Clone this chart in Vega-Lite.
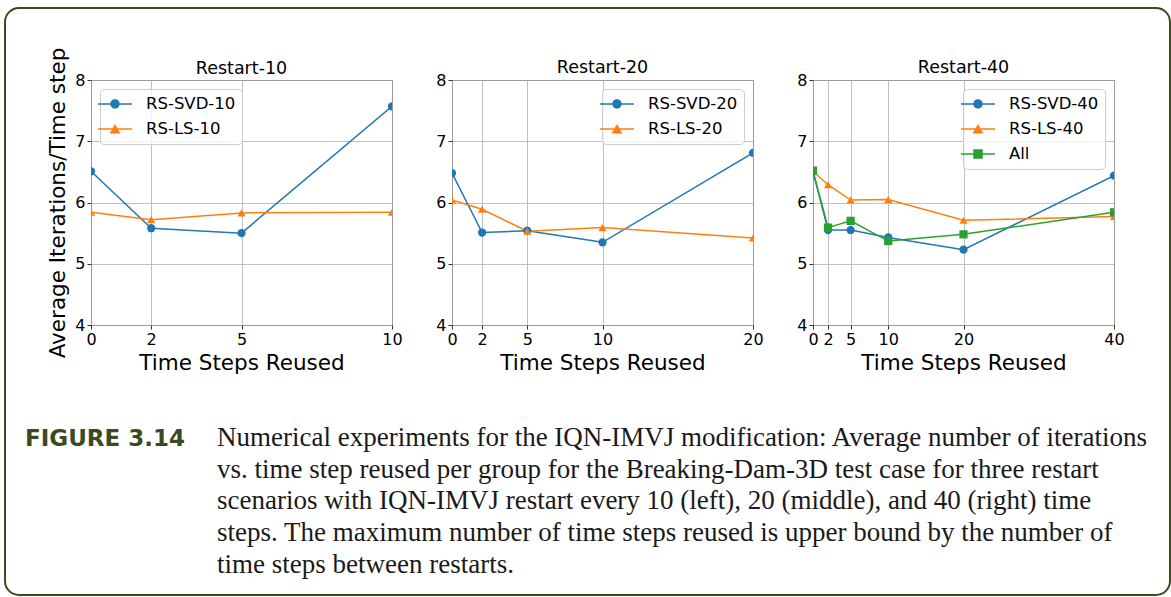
{
  "$schema": "https://vega.github.io/schema/vega-lite/v6.json",
  "background": "white",
  "padding": {"left": 4, "top": 6, "right": 0, "bottom": 0},
  "datasets": {
    "runs": [
      {"restart": 10, "series": "RS-SVD-10", "reused": 0, "iters": 6.51},
      {"restart": 10, "series": "RS-SVD-10", "reused": 2, "iters": 5.58},
      {"restart": 10, "series": "RS-SVD-10", "reused": 5, "iters": 5.50},
      {"restart": 10, "series": "RS-SVD-10", "reused": 10, "iters": 7.57},
      {"restart": 10, "series": "RS-LS-10", "reused": 0, "iters": 5.84},
      {"restart": 10, "series": "RS-LS-10", "reused": 2, "iters": 5.72},
      {"restart": 10, "series": "RS-LS-10", "reused": 5, "iters": 5.83},
      {"restart": 10, "series": "RS-LS-10", "reused": 10, "iters": 5.84},
      {"restart": 20, "series": "RS-SVD-20", "reused": 0, "iters": 6.48},
      {"restart": 20, "series": "RS-SVD-20", "reused": 2, "iters": 5.51},
      {"restart": 20, "series": "RS-SVD-20", "reused": 5, "iters": 5.54},
      {"restart": 20, "series": "RS-SVD-20", "reused": 10, "iters": 5.35},
      {"restart": 20, "series": "RS-SVD-20", "reused": 20, "iters": 6.81},
      {"restart": 20, "series": "RS-LS-20", "reused": 0, "iters": 6.04},
      {"restart": 20, "series": "RS-LS-20", "reused": 2, "iters": 5.89},
      {"restart": 20, "series": "RS-LS-20", "reused": 5, "iters": 5.53},
      {"restart": 20, "series": "RS-LS-20", "reused": 10, "iters": 5.59},
      {"restart": 20, "series": "RS-LS-20", "reused": 20, "iters": 5.42},
      {"restart": 40, "series": "RS-SVD-40", "reused": 0, "iters": 6.50},
      {"restart": 40, "series": "RS-SVD-40", "reused": 2, "iters": 5.55},
      {"restart": 40, "series": "RS-SVD-40", "reused": 5, "iters": 5.55},
      {"restart": 40, "series": "RS-SVD-40", "reused": 10, "iters": 5.43},
      {"restart": 40, "series": "RS-SVD-40", "reused": 20, "iters": 5.23},
      {"restart": 40, "series": "RS-SVD-40", "reused": 40, "iters": 6.44},
      {"restart": 40, "series": "RS-LS-40", "reused": 0, "iters": 6.51},
      {"restart": 40, "series": "RS-LS-40", "reused": 2, "iters": 6.29},
      {"restart": 40, "series": "RS-LS-40", "reused": 5, "iters": 6.04},
      {"restart": 40, "series": "RS-LS-40", "reused": 10, "iters": 6.05},
      {"restart": 40, "series": "RS-LS-40", "reused": 20, "iters": 5.71},
      {"restart": 40, "series": "RS-LS-40", "reused": 40, "iters": 5.77},
      {"restart": 40, "series": "All", "reused": 0, "iters": 6.52},
      {"restart": 40, "series": "All", "reused": 2, "iters": 5.59},
      {"restart": 40, "series": "All", "reused": 5, "iters": 5.70},
      {"restart": 40, "series": "All", "reused": 10, "iters": 5.37},
      {"restart": 40, "series": "All", "reused": 20, "iters": 5.48},
      {"restart": 40, "series": "All", "reused": 40, "iters": 5.84}
    ],
    "caption": [
      {"part": "label", "line": 1, "text": "FIGURE 3.14"},
      {"part": "body", "line": 1, "text": "Numerical experiments for the IQN-IMVJ modification: Average number of iterations"},
      {"part": "body", "line": 2, "text": "vs. time step reused per group for the Breaking-Dam-3D test case for three restart"},
      {"part": "body", "line": 3, "text": "scenarios with IQN-IMVJ restart every 10 (left), 20 (middle), and 40 (right) time"},
      {"part": "body", "line": 4, "text": "steps. The maximum number of time steps reused is upper bound by the number of"},
      {"part": "body", "line": 5, "text": "time steps between restarts."}
    ]
  },
  "bounds": "flush",
  "spacing": 301,
  "vconcat": [
    {
      "bounds": "flush",
      "spacing": 60,
      "resolve": {"scale": {"color": "independent", "shape": "independent"}},
      "hconcat": [
        {
          "width": 301,
          "height": 245,
          "title": {"text": "Restart-10", "frame": "group", "dy": 36},
          "data": {"name": "runs"},
          "transform": [{"filter": "datum.restart === 10"}],
          "view": {"stroke": "#4d4d4d", "strokeWidth": 1},
          "encoding": {
            "x": {"field": "reused", "type": "quantitative", "scale": {"domain": [0, 10], "nice": false}, "axis": {"values": [0, 2, 5, 10], "title": "Time Steps Reused"}},
            "y": {"field": "iters", "type": "quantitative", "scale": {"domain": [4, 8], "nice": false, "zero": false}, "axis": {"values": [4, 5, 6, 7, 8], "title": "Average Iterations/Time step"}},
            "color": {"field": "series", "type": "nominal", "scale": {"domain": ["RS-SVD-10", "RS-LS-10"], "range": ["#1f77b4", "#ff7f0e"]}, "legend": null}
          },
          "layer": [
            {"mark": {"type": "line", "strokeWidth": 1.5, "clip": true}},
            {
              "mark": {"type": "point", "filled": true, "opacity": 1, "size": 68, "clip": true},
              "encoding": {"shape": {"field": "series", "type": "nominal", "scale": {"domain": ["RS-SVD-10", "RS-LS-10"], "range": ["circle", "triangle-up"]}, "legend": null}}
            },
            {
              "mark": {"type": "point", "filled": true, "opacity": 0},
              "encoding": {
                "color": {"field": "series", "type": "nominal", "scale": {"domain": ["RS-SVD-10", "RS-LS-10"], "range": ["#1f77b4", "#ff7f0e"]}, "legend": {"orient": "top-left"}},
                "shape": {"field": "series", "type": "nominal", "scale": {"domain": ["RS-SVD-10", "RS-LS-10"], "range": [
                  "M-1.89,-0.083H1.89V0.083H-1.89Z M0,-0.52A0.52,0.52 0 1,1 0,0.52A0.52,0.52 0 1,1 0,-0.52Z",
                  "M-1.89,-0.083H1.89V0.083H-1.89Z M0,-0.55L0.61,0.5L-0.61,0.5Z"
                ]}, "legend": {"orient": "top-left"}}
              }
            }
          ],
          "resolve": {"scale": {"color": "independent", "shape": "independent"}}
        },
        {
          "width": 301,
          "height": 245,
          "title": {"text": "Restart-20", "frame": "group", "dy": 10},
          "data": {"name": "runs"},
          "transform": [{"filter": "datum.restart === 20"}],
          "view": {"stroke": "#4d4d4d", "strokeWidth": 1},
          "encoding": {
            "x": {"field": "reused", "type": "quantitative", "scale": {"domain": [0, 20], "nice": false}, "axis": {"values": [0, 2, 5, 10, 20], "title": "Time Steps Reused"}},
            "y": {"field": "iters", "type": "quantitative", "scale": {"domain": [4, 8], "nice": false, "zero": false}, "axis": {"values": [4, 5, 6, 7, 8], "title": null}},
            "color": {"field": "series", "type": "nominal", "scale": {"domain": ["RS-SVD-20", "RS-LS-20"], "range": ["#1f77b4", "#ff7f0e"]}, "legend": null}
          },
          "layer": [
            {"mark": {"type": "line", "strokeWidth": 1.5, "clip": true}},
            {
              "mark": {"type": "point", "filled": true, "opacity": 1, "size": 68, "clip": true},
              "encoding": {"shape": {"field": "series", "type": "nominal", "scale": {"domain": ["RS-SVD-20", "RS-LS-20"], "range": ["circle", "triangle-up"]}, "legend": null}}
            },
            {
              "mark": {"type": "point", "filled": true, "opacity": 0},
              "encoding": {
                "color": {"field": "series", "type": "nominal", "scale": {"domain": ["RS-SVD-20", "RS-LS-20"], "range": ["#1f77b4", "#ff7f0e"]}, "legend": {"orient": "top-right"}},
                "shape": {"field": "series", "type": "nominal", "scale": {"domain": ["RS-SVD-20", "RS-LS-20"], "range": [
                  "M-1.89,-0.083H1.89V0.083H-1.89Z M0,-0.52A0.52,0.52 0 1,1 0,0.52A0.52,0.52 0 1,1 0,-0.52Z",
                  "M-1.89,-0.083H1.89V0.083H-1.89Z M0,-0.55L0.61,0.5L-0.61,0.5Z"
                ]}, "legend": {"orient": "top-right"}}
              }
            }
          ],
          "resolve": {"scale": {"color": "independent", "shape": "independent"}}
        },
        {
          "width": 301,
          "height": 245,
          "title": {"text": "Restart-40", "frame": "group", "dy": 10},
          "data": {"name": "runs"},
          "transform": [{"filter": "datum.restart === 40"}],
          "view": {"stroke": "#4d4d4d", "strokeWidth": 1},
          "encoding": {
            "x": {"field": "reused", "type": "quantitative", "scale": {"domain": [0, 40], "nice": false}, "axis": {"values": [0, 2, 5, 10, 20, 40], "title": "Time Steps Reused"}},
            "y": {"field": "iters", "type": "quantitative", "scale": {"domain": [4, 8], "nice": false, "zero": false}, "axis": {"values": [4, 5, 6, 7, 8], "title": null}},
            "color": {"field": "series", "type": "nominal", "scale": {"domain": ["RS-SVD-40", "RS-LS-40", "All"], "range": ["#1f77b4", "#ff7f0e", "#2ca02c"]}, "legend": null}
          },
          "layer": [
            {"mark": {"type": "line", "strokeWidth": 1.5, "clip": true}},
            {
              "mark": {"type": "point", "filled": true, "opacity": 1, "size": 68, "clip": true},
              "encoding": {"shape": {"field": "series", "type": "nominal", "scale": {"domain": ["RS-SVD-40", "RS-LS-40", "All"], "range": ["circle", "triangle-up", "square"]}, "legend": null}}
            },
            {
              "mark": {"type": "point", "filled": true, "opacity": 0},
              "encoding": {
                "color": {"field": "series", "type": "nominal", "scale": {"domain": ["RS-SVD-40", "RS-LS-40", "All"], "range": ["#1f77b4", "#ff7f0e", "#2ca02c"]}, "legend": {"orient": "top-right"}},
                "shape": {"field": "series", "type": "nominal", "scale": {"domain": ["RS-SVD-40", "RS-LS-40", "All"], "range": [
                  "M-1.89,-0.083H1.89V0.083H-1.89Z M0,-0.52A0.52,0.52 0 1,1 0,0.52A0.52,0.52 0 1,1 0,-0.52Z",
                  "M-1.89,-0.083H1.89V0.083H-1.89Z M0,-0.55L0.61,0.5L-0.61,0.5Z",
                  "M-1.89,-0.083H1.89V0.083H-1.89Z M-0.53,-0.53H0.53V0.53H-0.53Z"
                ]}, "legend": {"orient": "top-right"}}
              }
            }
          ],
          "resolve": {"scale": {"color": "independent", "shape": "independent"}}
        }
      ]
    },
    {
      "width": 1079,
      "height": 214,
      "view": {"stroke": null},
      "layer": [
        {
          "data": {"values": [{"frame": "figure box"}]},
          "mark": {"type": "rect", "filled": false, "stroke": "#3b4a1f", "strokeWidth": 2, "cornerRadius": 14},
          "encoding": {
            "x": {"datum": -86, "type": "quantitative", "scale": {"domain": [0, 1079], "nice": false, "zero": false}, "axis": null},
            "x2": {"datum": 1079},
            "y": {"datum": -12.795, "type": "quantitative", "scale": {"domain": [-1.047, 5.693], "reverse": true, "nice": false, "zero": false}, "axis": null},
            "y2": {"datum": 5.693}
          }
        },
        {
          "data": {"name": "caption"},
          "transform": [{"filter": "datum.part === 'label'"}],
          "mark": {"type": "text", "align": "left", "baseline": "alphabetic", "font": "DejaVu Sans", "fontWeight": "bold", "fontSize": 23, "color": "#3b4a1f"},
          "encoding": {
            "x": {"datum": -66, "type": "quantitative"},
            "y": {"field": "line", "type": "quantitative"},
            "text": {"field": "text"}
          }
        },
        {
          "data": {"name": "caption"},
          "transform": [{"filter": "datum.part === 'body'"}],
          "mark": {"type": "text", "align": "left", "baseline": "alphabetic", "font": "Liberation Serif", "fontSize": 27, "color": "#1a1a1a"},
          "encoding": {
            "x": {"datum": 126, "type": "quantitative"},
            "y": {"field": "line", "type": "quantitative"},
            "text": {"field": "text"}
          }
        }
      ]
    }
  ],
  "config": {
    "font": "DejaVu Sans",
    "title": {"font": "DejaVu Sans", "fontSize": 17.5, "fontWeight": "normal", "color": "#000000", "baseline": "alphabetic", "offset": 6},
    "axis": {
      "labelFont": "DejaVu Sans", "labelFontSize": 16, "labelColor": "#000000",
      "titleFont": "DejaVu Sans", "titleFontSize": 21.5, "titleFontWeight": "normal", "titleColor": "#000000",
      "tickColor": "#333333", "tickSize": 4, "domain": false,
      "grid": true, "gridColor": "#b0b0b0", "gridWidth": 0.8,
      "labelFlush": false, "labelOverlap": false, "labelPadding": 2, "titlePadding": 5
    },
    "legend": {
      "title": null,
      "offset": 9,
      "padding": 6,
      "strokeColor": "#cccccc",
      "fillColor": "rgba(255,255,255,0.8)",
      "cornerRadius": 4,
      "labelFont": "DejaVu Sans",
      "labelFontSize": 16.5,
      "labelColor": "#000000",
      "symbolSize": 324,
      "symbolStrokeWidth": 0,
      "symbolOpacity": 1,
      "labelOffset": 22,
      "rowPadding": 7
    }
  }
}
